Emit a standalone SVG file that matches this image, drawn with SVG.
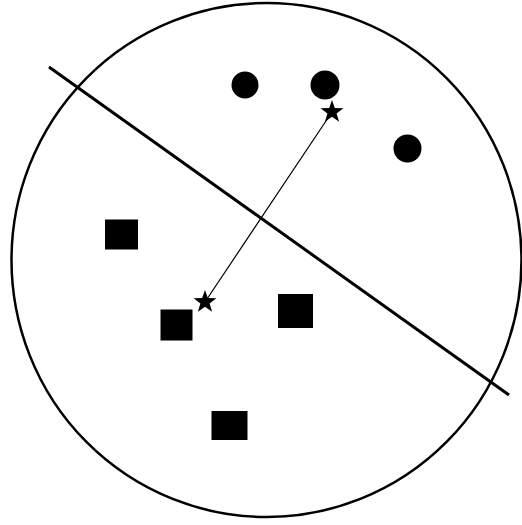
<svg xmlns="http://www.w3.org/2000/svg" width="522" height="525" viewBox="0 0 522 525">
<style>
.bound{fill:none;stroke:#000;stroke-width:2.5}
.sep{stroke:#000;stroke-width:3;fill:none}
.link{stroke:#000;stroke-width:1.2;fill:none}
.pt{fill:#000}
</style>
<defs>
<polygon id="star" points="0,-12 2.8,-3.9 11.4,-3.7 4.6,1.5 7.1,9.7 0,4.8 -7.1,9.7 -4.6,1.5 -11.4,-3.7 -2.8,-3.9"/>
</defs>
<rect width="522" height="525" fill="#fff"/>
<ellipse class="bound" cx="266.5" cy="260" rx="255" ry="257"/>
<g id="connectors">
<line class="sep" x1="49" y1="67" x2="509" y2="395"/>
<line class="link" x1="332" y1="112" x2="205" y2="302"/>
</g>
<g id="c1"><circle class="pt" cx="245" cy="85" r="13.5"/></g>
<g id="c2"><circle class="pt" cx="325" cy="85" r="14.5"/></g>
<g id="c3"><circle class="pt" cx="407.5" cy="148.5" r="14"/></g>
<g id="s1"><rect class="pt" x="105" y="219.5" width="33" height="30"/></g>
<g id="s2"><rect class="pt" x="160.5" y="309.5" width="32" height="31"/></g>
<g id="s3"><rect class="pt" x="278" y="294" width="35" height="34"/></g>
<g id="s4"><rect class="pt" x="211.5" y="411" width="36" height="29"/></g>
<g id="star1"><use href="#star" x="332" y="112"/></g>
<g id="star2"><use href="#star" x="205" y="302"/></g>
</svg>
